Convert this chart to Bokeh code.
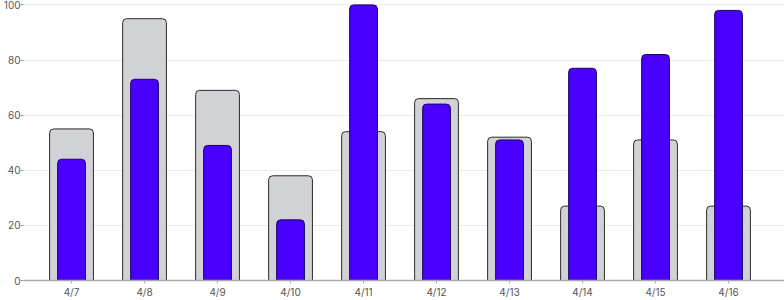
from bokeh.plotting import figure
from bokeh.models import ColumnDataSource, Range1d, FixedTicker
from bokeh.embed import file_html
from bokeh.resources import INLINE

dates = ["4/7", "4/8", "4/9", "4/10", "4/11", "4/12", "4/13", "4/14", "4/15", "4/16"]
gray_values = [55, 95, 69, 38, 54, 66, 52, 27, 51, 27]
purple_values = [44, 73, 49, 22, 100, 64, 51, 77, 82, 98]

xs = list(range(len(dates)))
src = ColumnDataSource(dict(x=xs, g=gray_values, p=purple_values))

p = figure(width=784, height=300, output_backend="svg", toolbar_location=None,
           x_range=Range1d(-0.658, 9.767), y_range=Range1d(0, 101.6),
           min_border_left=0, min_border_right=0, min_border_top=0, min_border_bottom=0)
p.outline_line_color = None
p.background_fill_color = "white"

p.vbar(x="x", top="g", bottom=0, width=0.6, source=src, fill_color="#d1d2d6",
       line_color="#2b2b2b", line_width=1, border_radius=(4, 4, 0, 0))
p.vbar(x="x", top="p", bottom=0, width=0.38, source=src, fill_color="#4a00ff",
       line_color="#1a0060", line_width=1, border_radius=(4, 4, 0, 0))

p.xgrid.grid_line_color = None
p.ygrid.grid_line_color = "#ebebeb"
p.ygrid.ticker = FixedTicker(ticks=[0, 20, 40, 60, 80, 100])

p.yaxis.ticker = FixedTicker(ticks=[0, 20, 40, 60, 80, 100])
p.yaxis.axis_line_color = None
p.yaxis.major_tick_line_color = "#999999"
p.yaxis.major_tick_in = 0
p.yaxis.major_tick_out = 3
p.yaxis.minor_tick_line_color = None
p.yaxis.major_label_standoff = 0
p.yaxis.major_label_text_font = "Inter"
p.yaxis.major_label_text_font_size = "10px"
p.yaxis.major_label_text_color = "#555555"

p.xaxis.ticker = FixedTicker(ticks=xs)
p.xaxis.major_label_overrides = {i: d for i, d in enumerate(dates)}
p.xaxis.axis_line_color = "#aaaaaa"
p.xaxis.axis_line_width = 1.5
p.xaxis.major_tick_line_color = "#aaaaaa"
p.xaxis.major_tick_in = 0
p.xaxis.major_tick_out = 3
p.xaxis.minor_tick_line_color = None
p.xaxis.major_label_standoff = 2
p.xaxis.major_label_text_font = "Inter"
p.xaxis.major_label_text_font_size = "10px"
p.xaxis.major_label_text_color = "#555555"

open("out.html", "w").write(file_html(p, INLINE))
